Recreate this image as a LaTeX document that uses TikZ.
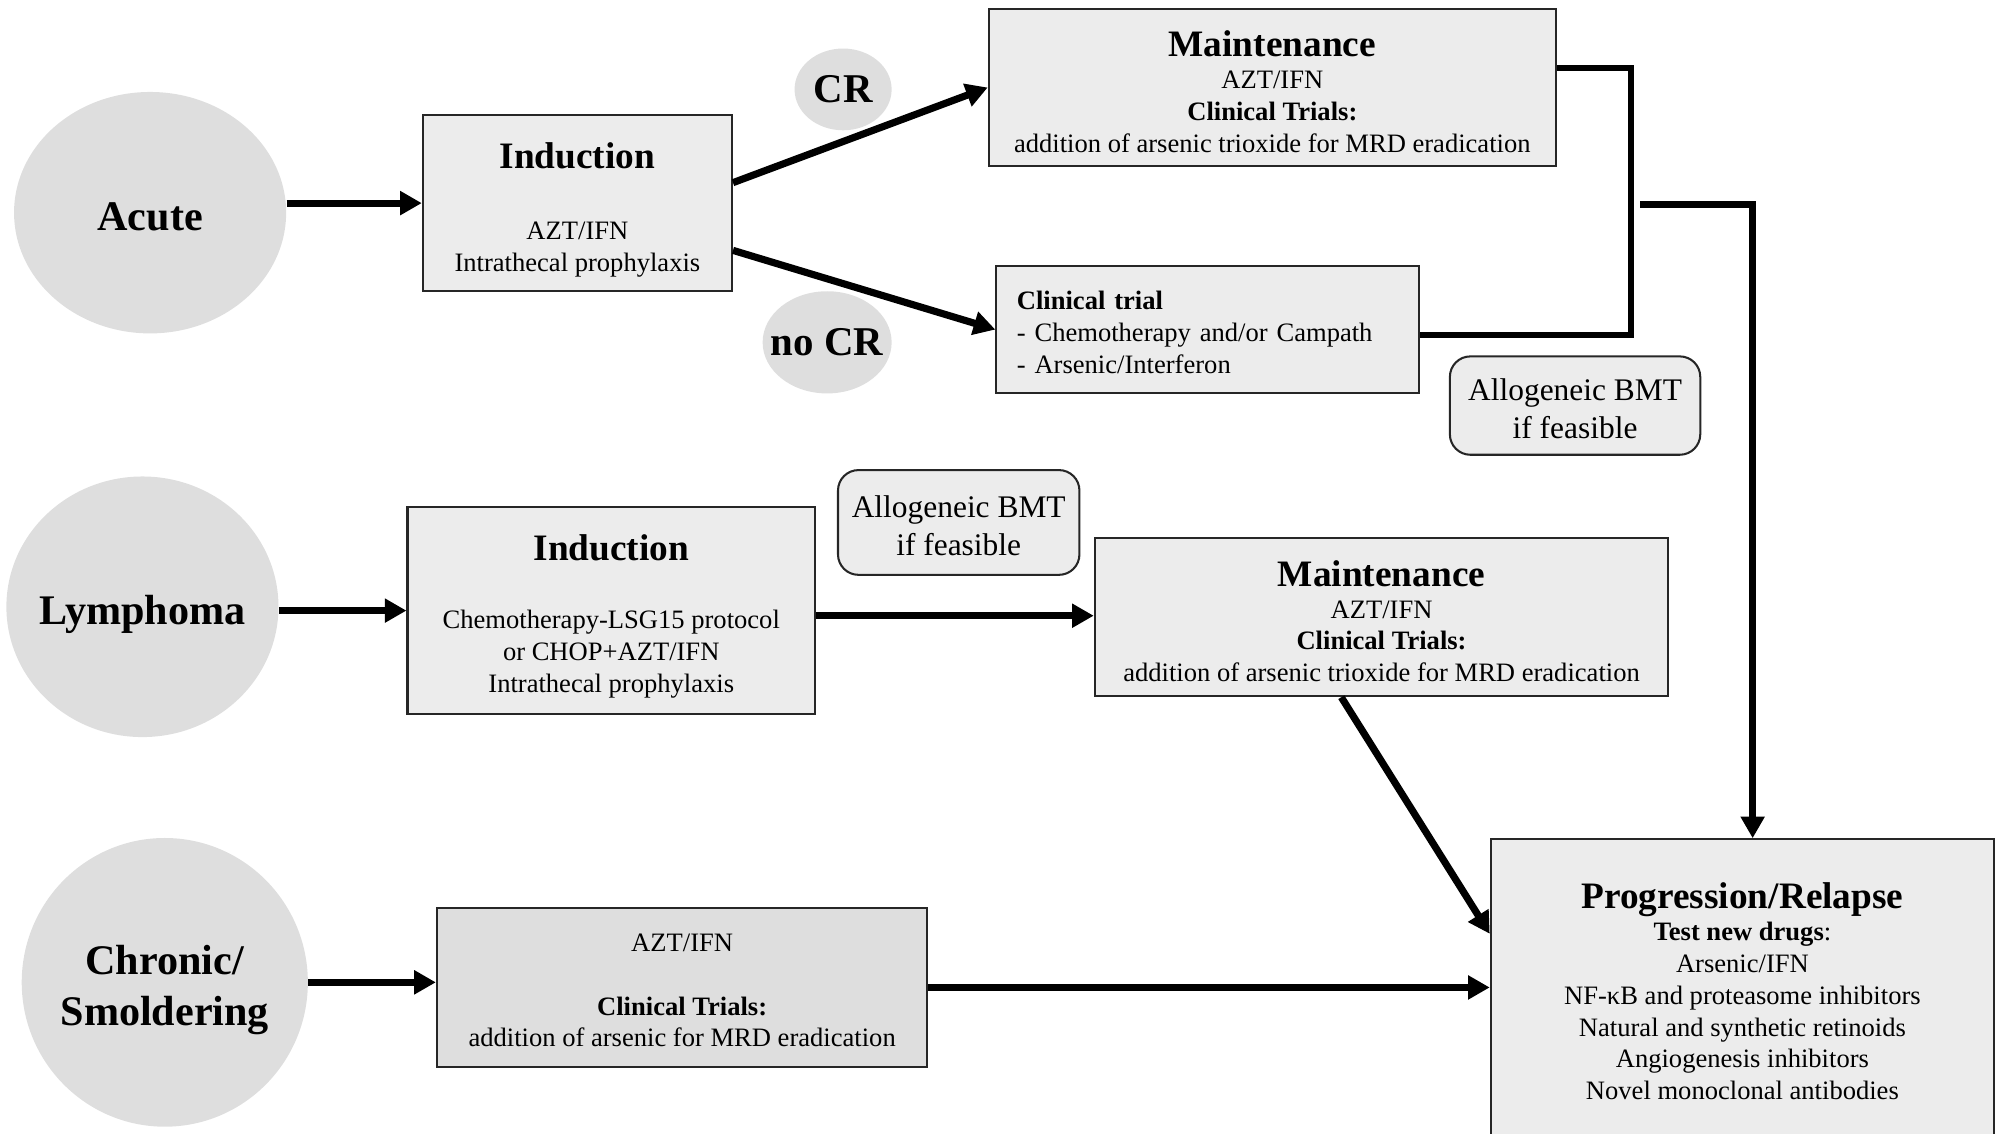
\documentclass[tikz,border=0pt]{standalone}
\usepackage{fontspec}
\setmainfont{Liberation Serif}
\usetikzlibrary{shapes.geometric,arrows.meta}

\newcommand{\headsize}{\fontsize{14.6pt}{17pt}\selectfont\bfseries}
\newcommand{\bodysize}{\fontsize{10.4pt}{12.5pt}\selectfont}
% invisible strut that pushes the first line of a node down
\newcommand{\topgap}[1]{\rule{0pt}{#1}}

\begin{document}
\begin{tikzpicture}[x=0.5pt, y=-0.5pt,
    stage/.style={ellipse, fill=black!13, inner sep=0pt, align=center,
        font=\fontsize{16.5pt}{20pt}\selectfont\bfseries},
    answer/.style={ellipse, fill=black!13, inner sep=0pt,
        font=\fontsize{16pt}{19pt}\selectfont\bfseries},
    therapy/.style={draw=black!85, line width=0.8pt, fill=black!7.5,
        inner sep=0pt, align=center, font=\bodysize},
    option/.style={draw=black!85, line width=0.8pt, fill=black!7.5,
        rounded corners=8pt, inner sep=0pt, align=center,
        font=\fontsize{12.3pt}{15pt}\selectfont},
    flow/.style={line width=2.8pt, -{Triangle[length=8.5pt, width=9pt]}},
    joinline/.style={line width=2.4pt}]

    % Page frame
    \useasboundingbox (0,0) rectangle (1568,887);
    \clip (0,0) rectangle (1568,887);

    % Draw disease forms
    \node[stage, minimum width=106.5pt, minimum height=94.5pt] (acute) at (117.5,166.5)
        {\topgap{14pt}\makebox[0pt]{Acute}};
    \node[stage, minimum width=106.5pt, minimum height=102pt] (lymph) at (111.5,475)
        {\topgap{17.4pt}\makebox[0pt]{Lymphoma}};
    \node[stage, minimum width=112pt, minimum height=113pt] (chron) at (129,769)
        {\topgap{17.4pt}\makebox[0pt]{Chronic/}\\ \makebox[0pt]{Smoldering}};

    % Acute: induction and response
    \node[therapy, minimum width=121pt, minimum height=69pt] (indA) at (452,159)
        {{\headsize\topgap{15.4pt}Induction}\\[15pt] AZT/IFN\\ Intrathecal prophylaxis};
    \node[answer, minimum width=38pt, minimum height=32pt] (cr) at (660,70) {\makebox[0pt]{CR}};
    \node[answer, minimum width=50.5pt, minimum height=40pt] (nocr) at (647.5,268) {\makebox[0pt]{no CR}};
    \node[therapy, minimum width=222pt, minimum height=61.5pt] (maintA) at (996,68.5)
        {{\headsize\topgap{13.2pt}Maintenance}\\ AZT/IFN\\ {\bfseries Clinical Trials:}\\
         addition of arsenic trioxide for MRD eradication};
    \node[therapy, align=left, text width=149.5pt, inner xsep=8pt, minimum height=50pt] (trialA) at (945.5,258)
        {{\bfseries\topgap{9.6pt}Clinical trial}\\ - Chemotherapy and/or Campath\\ - Arsenic/Interferon};
    \node[option, minimum width=98pt, minimum height=38.5pt] (bmtA) at (1233,317.5)
        {\topgap{10.9pt}Allogeneic BMT\\ if feasible};

    % Lymphoma: induction and maintenance
    \node[therapy, minimum width=159.5pt, minimum height=81pt] (indB) at (478.5,478)
        {{\headsize\topgap{14.9pt}Induction}\\[14pt] Chemotherapy-LSG15 protocol\\ or CHOP+AZT/IFN\\
         Intrathecal prophylaxis};
    \node[option, minimum width=94.5pt, minimum height=41pt] (bmtB) at (750.5,409)
        {\topgap{10.9pt}Allogeneic BMT\\ if feasible};
    \node[therapy, minimum width=224.5pt, minimum height=62pt] (maintB) at (1081.5,483)
        {{\headsize\topgap{13.4pt}Maintenance}\\ AZT/IFN\\ {\bfseries Clinical Trials:}\\
         addition of arsenic trioxide for MRD eradication};

    % Chronic/smoldering therapy
    \node[therapy, fill=black!13, minimum width=192pt, minimum height=62pt] (chronBox) at (534,773)
        {\topgap{9.2pt}AZT/IFN\\[12.5pt] {\bfseries Clinical Trials:}\\ addition of arsenic for MRD eradication};

    % Progression box runs off the bottom edge
    \node[therapy, minimum width=197pt, minimum height=119pt] (prog) at (1364,776)
        {{\headsize Progression/Relapse}\\ {\bfseries Test new drugs}:\\ Arsenic/IFN\\
         NF-κB and proteasome inhibitors\\ Natural and synthetic retinoids\\
         Angiogenesis inhibitors\\ Novel monoclonal antibodies};

    % Arrows into the first line of therapy
    \draw[flow] (acute.east |- indA.west) -- (indA.west);
    \draw[flow] (lymph.east |- indB.west) -- (indB.west);
    \draw[flow] (chron.east) -- (chron.east -| chronBox.west);

    % Response after induction
    \draw[flow] ([yshift=8pt]indA.east) -- (maintA.west);
    \draw[flow] ([yshift=-18.5pt]indA.east) -- (trialA.west);
    \draw[flow] ([yshift=-2pt]indB.east) -- ([yshift=-2pt]indB.east -| maintB.west);

    % Bracket joining both acute arms
    \coordinate (brk) at (1277,160);
    \draw[joinline] ([yshift=7.5pt]maintA.east) -| (brk) |- ([yshift=-2pt]trialA.east);

    % Everything ends in progression/relapse
    \coordinate (relapse) at (1284,160);
    \draw[flow] (relapse) -| ([xshift=4pt]prog.north);
    \draw[flow] ([xshift=-15.75pt]maintB.south) -- ([yshift=22.5pt]prog.west);
    \draw[flow] (chronBox.east) -- (chronBox.east -| prog.west);
\end{tikzpicture}
\end{document}
